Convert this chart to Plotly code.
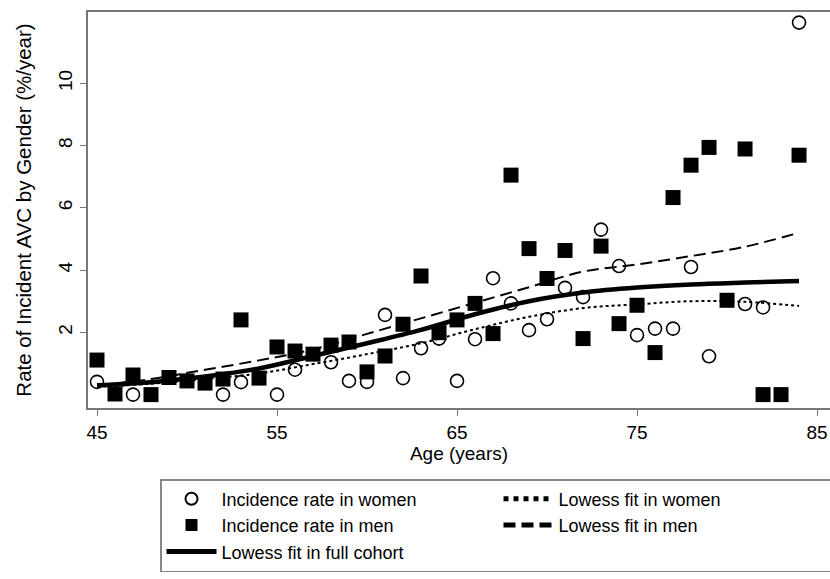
import plotly.graph_objects as go

# Incidence rate in women (open circles)
women_age = [45, 47, 52, 53, 55, 56, 58, 59, 60, 61, 62, 63, 64, 65, 66, 67, 68, 69,
             70, 71, 72, 73, 74, 75, 76, 77, 78, 79, 81, 82, 84]
women_rate = [0.41, 0.0, 0.0, 0.40, 0.0, 0.80, 1.04, 0.44, 0.41, 2.56, 0.53, 1.49, 1.80,
              0.44, 1.78, 3.74, 2.93, 2.07, 2.42, 3.43, 3.13, 5.30, 4.13, 1.91, 2.12,
              2.12, 4.10, 1.23, 2.91, 2.80, 11.95]

# Incidence rate in men (filled squares)
men_age = list(range(45, 85))
men_rate = [1.11, 0.02, 0.63, 0.0, 0.55, 0.44, 0.37, 0.50, 2.40, 0.53,
            1.53, 1.40, 1.30, 1.59, 1.69, 0.73, 1.24, 2.26, 3.81, 1.99,
            2.40, 2.93, 1.96, 7.05, 4.69, 3.73, 4.63, 1.80, 4.77, 2.28,
            2.87, 1.35, 6.33, 7.37, 7.94, 3.03, 7.89, 0.0, 0.0, 7.69]

# Lowess fits
fit_age = [45, 48, 51, 54, 57, 60, 63, 66, 69, 72, 75, 78, 81, 84]
fit_full = [0.30, 0.40, 0.58, 0.84, 1.24, 1.65, 2.08, 2.58, 3.00, 3.28, 3.44, 3.54, 3.60, 3.65]
fit_men = [0.30, 0.50, 0.80, 1.10, 1.45, 1.95, 2.45, 2.95, 3.45, 3.95, 4.18, 4.45, 4.75, 5.20]
fit_women = [0.25, 0.35, 0.50, 0.68, 0.98, 1.30, 1.65, 2.10, 2.50, 2.78, 2.90, 3.00, 2.98, 2.85]

x_ticks = [45, 55, 65, 75, 85]
y_ticks = [2, 4, 6, 8, 10]

FONT = "Liberation Sans, Arial, sans-serif"

fig = go.Figure()
fig.add_trace(go.Scatter(x=women_age, y=women_rate, mode="markers",
                         name="Incidence rate in women",
                         marker=dict(symbol="circle-open", size=13, color="black",
                                     line=dict(width=1.6, color="black"))))
fig.add_trace(go.Scatter(x=fit_age, y=fit_women, mode="lines", name="Lowess fit in women",
                         line=dict(color="black", width=2, dash="dot", shape="spline")))
fig.add_trace(go.Scatter(x=men_age, y=men_rate, mode="markers",
                         name="Incidence rate in men",
                         marker=dict(symbol="square", size=15, color="black")))
fig.add_trace(go.Scatter(x=fit_age, y=fit_men, mode="lines", name="Lowess fit in men",
                         line=dict(color="black", width=2, dash="12px,6px", shape="spline")))
fig.add_trace(go.Scatter(x=fit_age, y=fit_full, mode="lines", name="Lowess fit in full cohort",
                         line=dict(color="black", width=4.5, shape="spline")))

fig.update_layout(
    width=830, height=579,
    margin=dict(l=88, r=0, t=12, b=171),
    paper_bgcolor="white", plot_bgcolor="white",
    font=dict(family=FONT, color="black", size=18),
    showlegend=True,
    legend=dict(orientation="h", xref="container", x=160 / 830, xanchor="left",
                yref="container", y=1 - 479 / 579, yanchor="top",
                entrywidth=272, itemwidth=50, itemsizing="constant",
                bordercolor="#888888", borderwidth=1.5, bgcolor="white",
                font=dict(size=18, family=FONT)),
)
fig.update_xaxes(range=[44.5, 85.72], tickvals=x_ticks, ticks="outside", ticklen=6,
                 tickcolor="#777777", showline=True, linecolor="#777777", linewidth=2,
                 mirror=True, showgrid=False, zeroline=False, automargin=False,
                 tickfont=dict(size=19), title=dict(text="Age (years)", font=dict(size=19),
                                                    standoff=0))
fig.update_yaxes(range=[-0.43, 12.29], tickvals=y_ticks, ticks="outside", ticklen=6,
                 tickcolor="#777777", showline=True, linecolor="#777777", linewidth=2,
                 mirror=True, showgrid=False, zeroline=False, tickangle=-90,
                 automargin=False, tickfont=dict(size=19),
                 title=dict(text="Rate of Incident AVC by Gender (%/year)",
                            font=dict(size=20.5), standoff=18))

fig.write_html("out.html", config={"displayModeBar": False},
               post_script="document.body.style.margin='0';")
